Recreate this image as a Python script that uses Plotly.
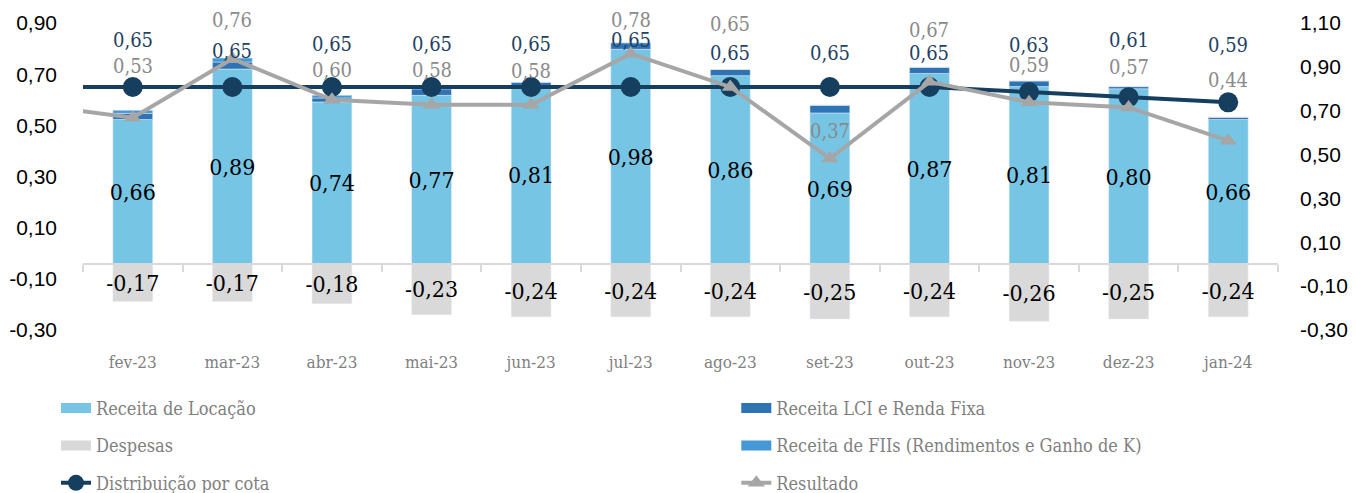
import plotly.graph_objects as go

# ---------------- data ----------------
meses = ["fev-23", "mar-23", "abr-23", "mai-23", "jun-23", "jul-23",
         "ago-23", "set-23", "out-23", "nov-23", "dez-23", "jan-24"]
mes_anterior = "jan-23"

receita_locacao = [0.66, 0.89, 0.74, 0.77, 0.81, 0.98, 0.86, 0.69, 0.87, 0.81, 0.80, 0.66]
receita_lci = [0.028, 0.032, 0.018, 0.030, 0.020, 0.030, 0.028, 0.035, 0.028, 0.026, 0.010, 0.010]
receita_fii = [0.014, 0.018, 0.012, 0.000, 0.000, 0.000, 0.000, 0.000, 0.000, 0.000, 0.000, 0.000]
despesas = [-0.17, -0.17, -0.18, -0.23, -0.24, -0.24, -0.24, -0.25, -0.24, -0.26, -0.25, -0.24]
distribuicao = [0.65, 0.65, 0.65, 0.65, 0.65, 0.65, 0.65, 0.65, 0.65, 0.63, 0.61, 0.59]
resultado = [0.53, 0.76, 0.60, 0.58, 0.58, 0.78, 0.65, 0.37, 0.67, 0.59, 0.57, 0.44]
distribuicao_anterior = 0.65
resultado_anterior = 0.58

# axis ticks
eixo_barras_ticks = [-0.30, -0.10, 0.10, 0.30, 0.50, 0.70, 0.90, 1.10]
eixo_linhas_ticks = [-0.30, -0.10, 0.10, 0.30, 0.50, 0.70, 0.90]

# label offsets (px above the point)
dist_label_dy = [47, 36, 43, 43, 43, 47, 34, 34, 34, 47, 57, 57]
res_label_dy = [52, 39, 30, 35, 34, 34, 63, 28, 52, 37, 40, 61]

# ---------------- styles ----------------
C_LOC = "#76C5E5"
C_LCI = "#2E74B5"
C_FII = "#4598D6"
C_DESP = "#D9D9D9"
C_DIST = "#163F5F"
C_DIST_TXT = "#1E4263"
C_RES = "#A6A6A6"
C_RES_TXT = "#8A8A8A"
SLAB = "DejaVu Serif Condensed, DejaVu Serif, serif"
SANS = "Liberation Sans, Arial, sans-serif"

bar_range = [-0.3, 1.1]
line_range = [-0.3, 0.9]
cats = [mes_anterior] + meses


def fmt(v):
    return f"{v:.2f}".replace(".", ",")


fig = go.Figure()

fig.add_trace(go.Bar(
    x=meses, y=receita_locacao, name="Receita de Locação", marker_color=C_LOC,
    width=0.4, text=[fmt(v) for v in receita_locacao], textposition="inside",
    insidetextanchor="middle", constraintext="none", textangle=0,
    textfont=dict(family=SLAB, size=23, color="#000000"),
    showlegend=False, xaxis="x", yaxis="y"))
fig.add_trace(go.Bar(
    x=meses, y=receita_lci, name="Receita LCI e Renda Fixa", marker_color=C_LCI,
    width=0.4, showlegend=False, xaxis="x", yaxis="y"))
fig.add_trace(go.Bar(
    x=meses, y=despesas, name="Despesas", marker_color=C_DESP,
    width=0.4, text=[fmt(v) for v in despesas], textposition="inside",
    insidetextanchor="middle", constraintext="none", textangle=0,
    textfont=dict(family=SLAB, size=23, color="#000000"),
    showlegend=False, xaxis="x", yaxis="y"))
fig.add_trace(go.Bar(
    x=meses, y=receita_fii, name="Receita de FIIs (Rendimentos e Ganho de K)",
    marker_color=C_FII, width=0.4, showlegend=False, xaxis="x", yaxis="y"))

# legend swatches for the bar series (wide rectangles as in the original)
legend_items = [
    ("Receita de Locação", C_LOC, "legend", "g1"),
    ("Receita LCI e Renda Fixa", C_LCI, "legend2", "g2"),
    ("Despesas", C_DESP, "legend", "g3"),
    ("Receita de FIIs (Rendimentos e Ganho de K)", C_FII, "legend2", "g4"),
]
for nm, col, lg, grp in legend_items:
    fig.add_trace(go.Scatter(
        x=[None], y=[None], name=nm, mode="lines",
        line=dict(color=col, width=13), legend=lg, legendgroup=grp,
        xaxis="x2", yaxis="y2", hoverinfo="skip"))

fig.add_trace(go.Scatter(
    x=cats, y=[distribuicao_anterior] + distribuicao, name="Distribuição por cota",
    mode="lines+markers", line=dict(color=C_DIST, width=4),
    marker=dict(symbol="circle", size=20, color=C_DIST),
    legend="legend", legendgroup="g5", xaxis="x2", yaxis="y2"))
fig.add_trace(go.Scatter(
    x=cats, y=[resultado_anterior] + resultado, name="Resultado",
    mode="lines+markers", line=dict(color=C_RES, width=4),
    marker=dict(symbol="triangle-up", size=15, color=C_RES),
    legend="legend2", legendgroup="g6", xaxis="x2", yaxis="y2"))

annotations = []
for i, m in enumerate(meses):
    annotations.append(dict(
        x=m, y=distribuicao[i], xref="x2", yref="y2", text=fmt(distribuicao[i]),
        showarrow=False, yshift=dist_label_dy[i],
        font=dict(family=SLAB, size=20, color=C_DIST_TXT)))
    annotations.append(dict(
        x=m, y=resultado[i], xref="x2", yref="y2", text=fmt(resultado[i]),
        showarrow=False, yshift=res_label_dy[i],
        font=dict(family=SLAB, size=20, color=C_RES_TXT)))

zero_pos = (0 - bar_range[0]) / (bar_range[1] - bar_range[0])

legend_common = dict(
    orientation="v", font=dict(family=SLAB, size=18, color="#7F7F7F"),
    bgcolor="rgba(0,0,0,0)", tracegroupgap=11, yanchor="top", xanchor="left",
    traceorder="grouped")

fig.update_layout(
    width=1356, height=493,
    margin=dict(l=83, r=78, t=23, b=163, autoexpand=False),
    paper_bgcolor="white", plot_bgcolor="white",
    barmode="relative",
    showlegend=True,
    annotations=annotations,
    xaxis=dict(
        type="category", categoryorder="array", categoryarray=cats,
        range=[0.5, len(cats) - 0.5], showgrid=False, zeroline=False,
        showline=False, ticks="", ticklabelstandoff=20,
        tickfont=dict(family=SLAB, size=17, color="#7F7F7F")),
    xaxis2=dict(
        type="category", categoryorder="array", categoryarray=cats,
        range=[0.5, len(cats) - 0.5], overlaying="x", anchor="free",
        position=zero_pos, showgrid=False, zeroline=False,
        showline=True, linecolor="#D9D9D9", linewidth=2,
        ticks="outside", tickson="boundaries", ticklen=7, tickwidth=2,
        tickcolor="#D9D9D9", showticklabels=False),
    yaxis=dict(
        side="right", range=bar_range,
        tickmode="array", tickvals=eixo_barras_ticks,
        ticktext=[fmt(v) for v in eixo_barras_ticks],
        showgrid=False, zeroline=False, showline=False, ticks="",
        ticklabelstandoff=21,
        tickfont=dict(family=SANS, size=21, color="#000000")),
    yaxis2=dict(
        overlaying="y", side="left", anchor="free", position=0,
        range=line_range,
        tickmode="array", tickvals=eixo_linhas_ticks,
        ticktext=[fmt(v) for v in eixo_linhas_ticks],
        showgrid=False, zeroline=False, showline=False, ticks="",
        ticklabelstandoff=26,
        tickfont=dict(family=SANS, size=21, color="#000000")),
    legend=dict(x=-0.0226, y=-0.195, **legend_common),
    legend2=dict(x=0.5467, y=-0.195, **legend_common),
)

fig.write_html("out.html", config={"displayModeBar": False},
               post_script="document.body.style.margin='0px';")
